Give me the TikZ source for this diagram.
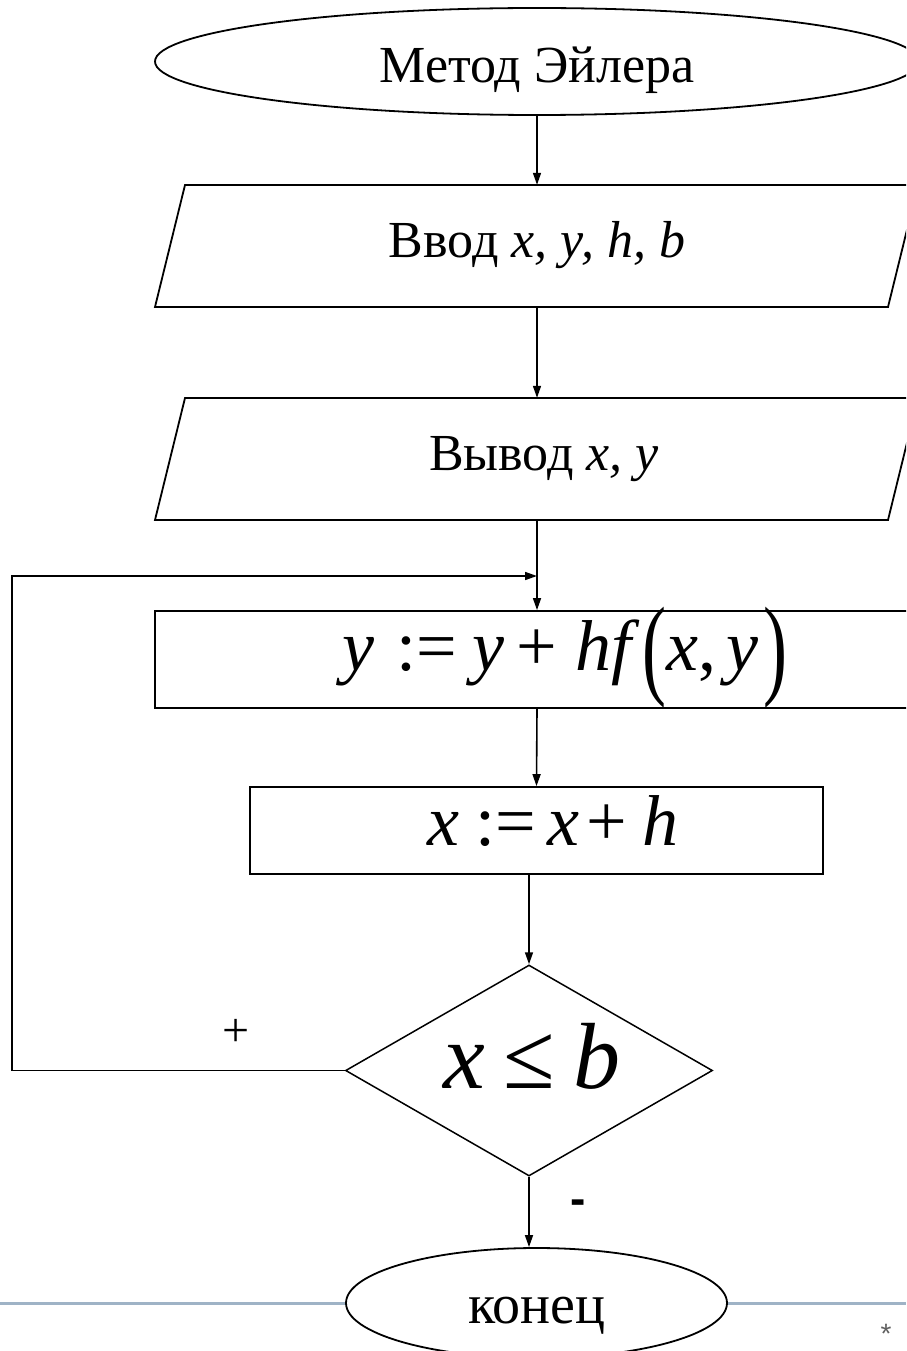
\documentclass[tikz,border=0pt]{standalone}
\usepackage{fontspec}
\usepackage{graphicx}
\setmainfont{Liberation Serif}[ItalicFont={Liberation Serif Italic}, BoldFont={Liberation Serif Bold}]
\newfontfamily\sansf{Liberation Sans}
\usetikzlibrary{shapes.geometric,arrows.meta}
\definecolor{sepblue}{HTML}{9FB3C6}
\definecolor{stargray}{HTML}{606060}
\tikzset{
  shp/.style={draw=black, line width=1.8pt, inner sep=0pt},
  ghost/.style={draw=none, inner sep=0pt},
  arr/.style={line width=1.6pt, -{Triangle[length=12pt,width=8pt]}},
  lbl/.style={anchor=base, inner sep=0pt, text=black},
}
\newcommand{\fs}[1]{\fontsize{#1}{#1}\selectfont}
\newcommand{\bigp}[1]{\raisebox{-0.2em}{\scalebox{1}[1.55]{#1}}}
\begin{document}
\begin{tikzpicture}[x=1pt,y=-1pt]
\useasboundingbox (0,0) rectangle (906,1351);
\clip (0,0) rectangle (906,1351);
\fill[white] (0,0) rectangle (906,1351);

% separator line at bottom
\node[ellipse, ghost, minimum width=381pt, minimum height=110pt] (endg) at (536.5,1303) {};
\draw[sepblue, line width=3pt] (0,1303) -- (endg.west);
\draw[sepblue, line width=3pt] (endg.east) -- (906,1303);

% shapes
\node[ellipse, shp, minimum width=764pt, minimum height=107pt] (start) at (537,61.5) {};
\node[ghost, minimum width=700pt, minimum height=122pt] (in) at (537,246) {};
\draw[line width=1.8pt] (185,185) -- (918,185) -- (888,307) -- (155,307) -- cycle;
\node[ghost, minimum width=700pt, minimum height=122pt] (out) at (537,459) {};
\draw[line width=1.8pt] (185,398) -- (918,398) -- (888,520) -- (155,520) -- cycle;
\node[rectangle, shp, minimum width=764pt, minimum height=97pt] (r1) at (537,659.5) {};
\node[rectangle, shp, minimum width=573pt, minimum height=87pt] (r2) at (536.5,830.5) {};
\node[diamond, shp, line width=1.5pt, minimum width=367pt, minimum height=211pt] (dec) at (529,1070.5) {};
\node[ellipse, shp, minimum width=381pt, minimum height=110pt] (end) at (536.5,1303) {};

% texts
\node[lbl] (t1) at (537,83) {\fs{52}Метод Эйлера};
\node[lbl] (t2) at (537,257) {\fs{52}Ввод \textit{x, y, h, b}};
\node[lbl] (t3) at (544,470) {\fs{52}Вывод \textit{x, y}};
\node[lbl] (t4) at (565,670) {\fs{72}\textit{y}\hspace{0.3em}:=\hspace{0.22em}\textit{y}\hspace{0.16em}+\hspace{0.26em}\textit{hf}\hspace{0.04em}\bigp{(}\textit{x},\hspace{0.14em}\textit{y}\hspace{0.06em}\bigp{)}};
\node[lbl] (t5) at (553,845) {\fs{72}\textit{x}\hspace{0.22em}:=\hspace{0.16em}\textit{x}\hspace{0.1em}+\hspace{0.22em}\textit{h}};
\node[lbl] (t6) at (532,1088) {\fs{94}\textit{x}\hspace{0.2em}≤\hspace{0.2em}\textit{b}};
\node[lbl] (t7) at (537,1323) {\fs{56}конец};
\node[lbl] (plus) at (236,1046) {\fs{48}+};
\node[lbl] (minus) at (578,1214) {\sansf\bfseries\fs{46}-};
\node[lbl, text=stargray] (star) at (886,1343) {\sansf\fs{28}*};

% connectors
\coordinate (join) at (537,576);
\coordinate (lp) at (12,576);
\draw[arr] (start.south) -- (in.north);
\draw[arr] (in.south) -- (out.north);
\draw[arr] (out.south) -- (r1.north);
\draw[arr] (r1.south) -- (r2.north);
\draw[arr] (r2.south -| dec.north) -- (dec.north);
\draw[arr] (dec.west) -| (lp) -- (join);
\draw[arr] (dec.south) -- (dec.south |- end.north);
\end{tikzpicture}
\end{document}
